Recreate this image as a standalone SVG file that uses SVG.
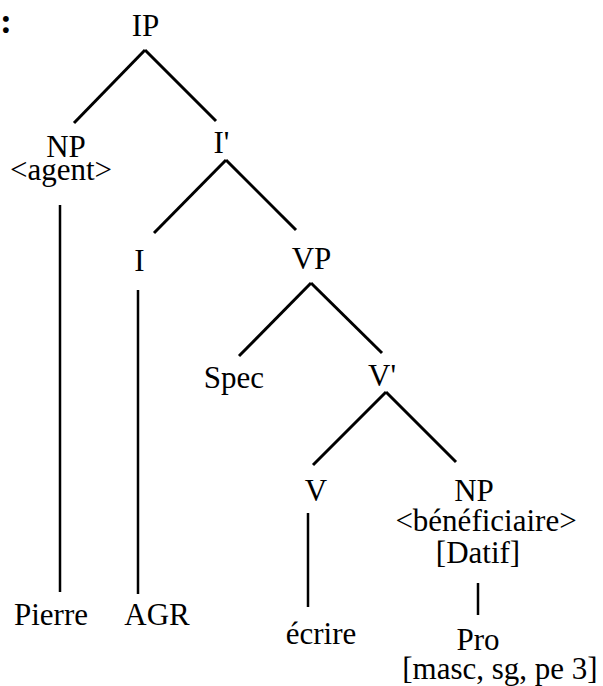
<svg xmlns="http://www.w3.org/2000/svg" width="603" height="686" viewBox="0 0 603 686">
  <defs>
    <style>
      text { fill: #000; text-anchor: middle; }
      .e { stroke: #000; stroke-width: 3; fill: none; stroke-linecap: butt; }
      .v { stroke: #000; stroke-width: 2.5; fill: none; }
    </style>
  </defs>
  <rect width="603" height="686" fill="#fff"/>
  <g id="connectors">
    <line class="e" x1="145" y1="50" x2="74" y2="123"/>
    <line class="e" x1="145" y1="50" x2="216" y2="121"/>
    <line class="e" x1="226" y1="160" x2="154" y2="233"/>
    <line class="e" x1="226" y1="160" x2="296" y2="230"/>
    <line class="e" x1="311" y1="283" x2="239" y2="356"/>
    <line class="e" x1="311" y1="283" x2="382" y2="353"/>
    <line class="e" x1="386" y1="392" x2="313" y2="465"/>
    <line class="e" x1="386" y1="392" x2="456" y2="462"/>
    <line class="v" x1="60" y1="205" x2="60" y2="592"/>
    <line class="v" x1="138" y1="290" x2="138" y2="594"/>
    <line class="v" x1="308" y1="513" x2="308" y2="607"/>
    <line class="v" x1="478" y1="583" x2="478" y2="615"/>
  </g>
  <g font-family="Liberation Serif, Times New Roman, serif" font-size="31">
    <g id="colon"><text x="6" y="33" font-weight="bold" font-size="36" text-anchor="start">:</text></g>
    <g id="IP"><text x="145.5" y="36">IP</text></g>
    <g id="NP-agent">
      <text x="66" y="157">NP</text>
      <text x="61" y="180">&lt;agent&gt;</text>
    </g>
    <g id="Ibar"><text x="221.5" y="153">I'</text></g>
    <g id="I"><text x="139.5" y="271">I</text></g>
    <g id="VP"><text x="311.5" y="269">VP</text></g>
    <g id="Spec"><text x="234" y="388">Spec</text></g>
    <g id="Vbar"><text x="382" y="386">V'</text></g>
    <g id="V"><text x="316" y="501">V</text></g>
    <g id="NP-benef">
      <text x="474" y="501">NP</text>
      <text x="486" y="531">&lt;bénéficiaire&gt;</text>
      <text x="478" y="563">[Datif]</text>
    </g>
    <g id="Pierre"><text x="51" y="625">Pierre</text></g>
    <g id="AGR"><text x="157" y="625">AGR</text></g>
    <g id="ecrire"><text x="321" y="644">écrire</text></g>
    <g id="Pro">
      <text x="478" y="650">Pro</text>
      <text x="500" y="679">[masc, sg, pe 3]</text>
    </g>
  </g>
</svg>
